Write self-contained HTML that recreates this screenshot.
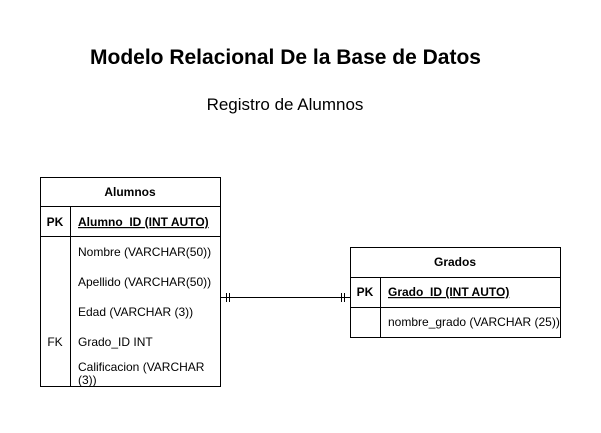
<!DOCTYPE html>
<html><head><meta charset="utf-8"><style>
body{margin:0;background:#fff;width:601px;height:428px;overflow:hidden;font-family:"Liberation Sans",Arial,sans-serif}
</style></head><body>
<svg width="601" height="428" xmlns="http://www.w3.org/2000/svg" font-family="Liberation Sans, Arial, sans-serif">
<rect width="601" height="428" fill="#fff"/>
<text x="285.5" y="64" text-anchor="middle" font-size="21" font-weight="bold">Modelo Relacional De la Base de Datos</text>
<text x="285" y="110" text-anchor="middle" font-size="17">Registro de Alumnos</text>
<g stroke="#000" fill="none" stroke-width="1">
<rect x="40.5" y="177.5" width="180" height="209"/>
<line x1="40.5" y1="206.5" x2="220.5" y2="206.5"/>
<line x1="40.5" y1="236.5" x2="220.5" y2="236.5"/>
<line x1="70.5" y1="206.5" x2="70.5" y2="386.5"/>
<rect x="350.5" y="247.5" width="210" height="90"/>
<line x1="350.5" y1="277.5" x2="560.5" y2="277.5"/>
<line x1="350.5" y1="307.5" x2="560.5" y2="307.5"/>
<line x1="380.5" y1="277.5" x2="380.5" y2="337.5"/>
<line x1="220" y1="297.5" x2="350" y2="297.5"/>
<line x1="226.5" y1="293" x2="226.5" y2="302"/>
<line x1="229.5" y1="293" x2="229.5" y2="302"/>
<line x1="341.5" y1="293" x2="341.5" y2="302"/>
<line x1="344.5" y1="293" x2="344.5" y2="302"/>
</g>
<g font-size="12" fill="#000">
<text x="130" y="196" text-anchor="middle" font-weight="bold">Alumnos</text>
<text x="55" y="226" text-anchor="middle" font-weight="bold">PK</text>
<text x="78" y="226" font-weight="bold" text-decoration="underline">Alumno_ID (INT AUTO)</text>
<text x="78" y="256">Nombre (VARCHAR(50))</text>
<text x="78" y="286">Apellido (VARCHAR(50))</text>
<text x="78" y="316">Edad (VARCHAR (3))</text>
<text x="55" y="346" text-anchor="middle">FK</text>
<text x="78" y="346">Grado_ID INT</text>
<text x="78" y="371">Calificacion (VARCHAR</text>
<text x="78" y="384">(3))</text>
<text x="455" y="266" text-anchor="middle" font-weight="bold">Grados</text>
<text x="365" y="296" text-anchor="middle" font-weight="bold">PK</text>
<text x="388" y="296" font-weight="bold" text-decoration="underline">Grado_ID (INT AUTO)</text>
<text x="388" y="326">nombre_grado (VARCHAR (25))</text>
</g>
</svg>
</body></html>
